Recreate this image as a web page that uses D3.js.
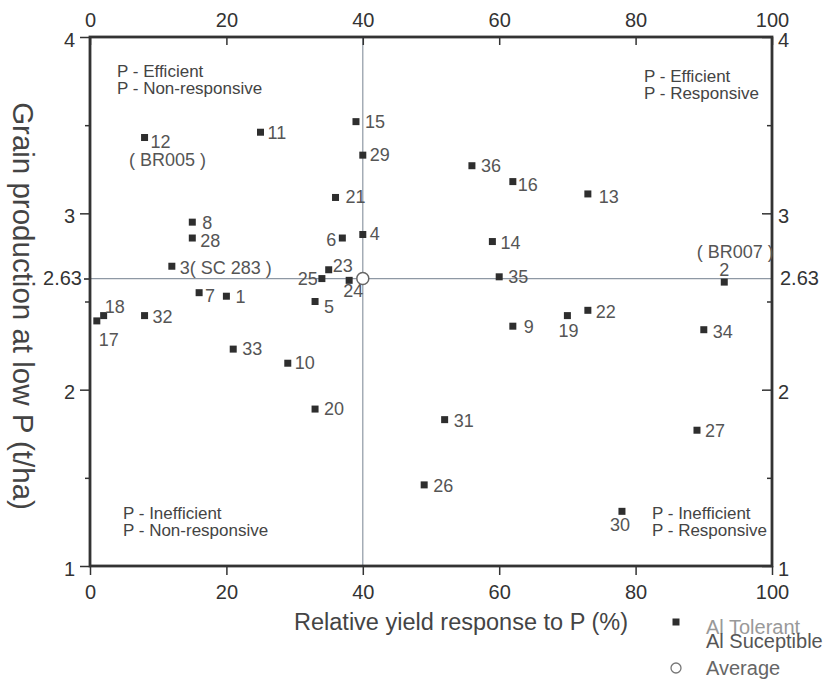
<!DOCTYPE html>
<html>
<head>
<meta charset="utf-8">
<script src="https://cdn.jsdelivr.net/npm/d3@7"></script>
<style>
  body { margin: 0; background: #fff; }
  text { font-family: "Liberation Sans", Arial, sans-serif; }
</style>
</head>
<body>
<script>
//#### DATA ####
var ids = [1,2,3,4,5,6,7,8,9,10,11,12,13,14,15,16,17,18,19,20,21,22,23,24,25,26,27,28,29,30,31,32,33,34,35,36];
var response = [20,93,12,40,33,37,16,15,62,29,25,8,73,59,39,62,1,2,70,33,36,73,35,38,34,49,89,15,40,78,52,8,21,90,60,56];
var grain = [2.53,2.61,2.70,2.88,2.50,2.86,2.55,2.95,2.36,2.15,3.46,3.43,3.11,2.84,3.52,3.18,2.39,2.42,2.42,1.89,
             3.09,2.45,2.68,2.62,2.63,1.46,1.77,2.86,3.33,1.31,1.83,2.42,2.23,2.34,2.64,3.27];
var pointNames = {3: "3( SC 283 )"};
var cultivars = {12: "( BR005 )", 2: "( BR007 )"};

var avgResponse = 40;
var avgGrain = 2.63;

var xTicks = [0,20,40,60,80,100];
var yTicks = [1,2,3,4];
var yMinor = [1.5,2.5,3.5];

var quadrants = [
  ["P - Efficient", "P - Non-responsive"],
  ["P - Efficient", "P - Responsive"],
  ["P - Inefficient", "P - Non-responsive"],
  ["P - Inefficient", "P - Responsive"]
];
var legendItems = ["Al Tolerant", "Al Suceptible", "Average"];

var xTitle = "Relative yield response to P (%)";
var yTitle = "Grain production at low P (t/ha)";

// label placement per point: [dx, dy, anchor]
var labelPos = {
  1:[9,7,"start"], 2:[0,-6,"middle"], 3:[8,8,"start"], 4:[7,6,"start"], 5:[9,11,"start"],
  6:[-6,8,"end"], 7:[6,9,"start"], 8:[10,7,"start"], 9:[11,7,"start"], 10:[7,6,"start"],
  11:[7,7,"start"], 12:[6,10,"start"], 13:[11,9,"start"], 14:[8,7,"start"], 15:[9,6,"start"],
  16:[5,9,"start"], 17:[2,25,"start"], 18:[1,-3,"start"], 19:[1,21,"middle"], 20:[9,6,"start"],
  21:[10,6,"start"], 22:[8,8,"start"], 23:[4,2,"start"], 24:[-6,17,"start"], 25:[-4,6,"end"],
  26:[9,7,"start"], 27:[8,7,"start"], 28:[8,9,"start"], 29:[7,6,"start"], 30:[-2,20,"middle"],
  31:[9,7,"start"], 32:[8,7,"start"], 33:[9,6,"start"], 34:[9,8,"start"], 35:[9,6,"start"],
  36:[9,6,"start"]
};
var cultivarPos = {12:[23,28], 2:[11,-24]};

var data = ids.map(function(id, i) {
  return {id: id, x: response[i], y: grain[i], name: pointNames[id] || String(id)};
});

//#### LAYOUT ####
var width_outer = 829;
var height_outer = 680;
var margin = {top: 37, right: 57, bottom: 114, left: 90};

var svg = d3.select("body").append("svg")
  .attr("width", width_outer)
  .attr("height", height_outer);

var x = d3.scaleLinear()
  .domain([0, 100])
  .range([margin.left, width_outer - margin.right]);

var y = d3.scaleLinear()
  .domain([1, 4])
  .range([height_outer - margin.bottom, margin.top]);

var axisColor = "#333";
var textColor = "#444";
var refColor = "#8e98a4";

// reference lines through the averages
svg.append("line")
  .attr("x1", x(avgResponse)).attr("x2", x(avgResponse))
  .attr("y1", y(4)).attr("y2", y(1))
  .style("stroke", refColor).style("stroke-width", 1.2);

svg.append("line")
  .attr("x1", x(0) - 6).attr("x2", x(100))
  .attr("y1", y(avgGrain)).attr("y2", y(avgGrain))
  .style("stroke", refColor).style("stroke-width", 1.2);

// quadrant captions
var quadAt = [
  {x: 117, y: 77},
  {x: 644, y: 82},
  {x: 123, y: 519},
  {x: 652, y: 519}
];
quadrants.forEach(function(q, i) {
  var t = svg.append("text")
    .attr("x", quadAt[i].x).attr("y", quadAt[i].y)
    .style("font-size", "17px")
    .style("fill", textColor);
  t.append("tspan").attr("x", quadAt[i].x).text(q[0]);
  t.append("tspan").attr("x", quadAt[i].x).attr("dy", 17).text(q[1]);
});

// axes
var tickStyle = function(g) {
  g.select(".domain").remove();
  g.selectAll(".tick line").style("stroke", axisColor).style("stroke-width", 1.5);
  g.selectAll(".tick text")
    .style("font-size", "20px")
    .style("fill", "#333")
    .style("font-family", "'Liberation Sans', Arial, sans-serif");
};

svg.append("g")
  .attr("transform", "translate(0," + y(1) + ")")
  .call(d3.axisBottom(x).tickValues(xTicks).tickSize(9).tickPadding(10))
  .call(tickStyle);

svg.append("g")
  .attr("transform", "translate(0," + y(4) + ")")
  .call(d3.axisTop(x).tickValues(xTicks).tickSizeInner(-8).tickSizeOuter(0).tickPadding(10))
  .call(tickStyle);

svg.append("g")
  .attr("transform", "translate(" + x(0) + ",0)")
  .call(d3.axisLeft(y).tickValues(yTicks).tickSize(10).tickPadding(5).tickFormat(d3.format("d")))
  .call(tickStyle)
  .selectAll(".tick text").attr("dy", "0.45em");

svg.append("g")
  .attr("transform", "translate(" + x(100) + ",0)")
  .call(d3.axisRight(y).tickValues(yTicks).tickSizeInner(-10).tickSizeOuter(0).tickPadding(6).tickFormat(d3.format("d")))
  .call(tickStyle)
  .selectAll(".tick text").attr("dy", "0.45em");

// minor ticks
svg.append("g")
  .attr("transform", "translate(" + x(0) + ",0)")
  .call(d3.axisLeft(y).tickValues(yMinor).tickSize(5).tickFormat(""))
  .call(tickStyle);

svg.append("g")
  .attr("transform", "translate(" + x(100) + ",0)")
  .call(d3.axisRight(y).tickValues(yMinor).tickSizeInner(-5).tickSizeOuter(0).tickFormat(""))
  .call(tickStyle);

// average marker on both sides
svg.append("g")
  .attr("transform", "translate(" + x(0) + ",0)")
  .call(d3.axisLeft(y).tickValues([avgGrain]).tickSize(6).tickPadding(2).tickFormat(d3.format(".2f")))
  .call(tickStyle);

svg.append("g")
  .attr("transform", "translate(" + x(100) + ",0)")
  .call(d3.axisRight(y).tickValues([avgGrain]).tickSize(0).tickPadding(8).tickFormat(d3.format(".2f")))
  .call(tickStyle);

// frame
svg.append("rect")
  .attr("x", x(0)).attr("y", y(4))
  .attr("width", x(100) - x(0))
  .attr("height", y(1) - y(4))
  .style("fill", "none")
  .style("stroke", axisColor)
  .style("stroke-width", 2.8);

// axis titles
svg.append("text")
  .attr("x", 461).attr("y", 630)
  .attr("text-anchor", "middle")
  .style("font-size", "23.5px")
  .style("fill", textColor)
  .text(xTitle);

svg.append("text")
  .attr("transform", "translate(13,306) rotate(90)")
  .attr("text-anchor", "middle")
  .style("font-size", "29.5px")
  .style("fill", textColor)
  .text(yTitle);

// points
svg.selectAll(".dot")
  .data(data)
  .enter().append("rect")
  .attr("class", "dot")
  .attr("x", function(d) { return x(d.x) - 3.5; })
  .attr("y", function(d) { return y(d.y) - 3.5; })
  .attr("width", 7)
  .attr("height", 7)
  .style("fill", "#2e2e2e");

svg.selectAll(".lbl")
  .data(data)
  .enter().append("text")
  .attr("class", "lbl")
  .attr("x", function(d) { return x(d.x) + labelPos[d.id][0]; })
  .attr("y", function(d) { return y(d.y) + labelPos[d.id][1]; })
  .attr("text-anchor", function(d) { return labelPos[d.id][2]; })
  .style("font-size", "18px")
  .style("fill", "#555")
  .text(function(d) { return d.name; });

data.filter(function(d) { return cultivars[d.id]; }).forEach(function(d) {
  svg.append("text")
    .attr("x", x(d.x) + cultivarPos[d.id][0])
    .attr("y", y(d.y) + cultivarPos[d.id][1])
    .attr("text-anchor", "middle")
    .style("font-size", "18px")
    .style("fill", "#555")
    .text(cultivars[d.id]);
});

// average point
svg.append("circle")
  .attr("cx", x(avgResponse))
  .attr("cy", y(avgGrain))
  .attr("r", 6)
  .style("fill", "#fff")
  .style("stroke", "#666")
  .style("stroke-width", 1.5);

// legend
svg.append("rect")
  .attr("x", 672.5).attr("y", 618.5)
  .attr("width", 7).attr("height", 7)
  .style("fill", "#2e2e2e");

svg.append("text")
  .attr("x", 706).attr("y", 634)
  .style("font-size", "20px")
  .style("fill", "#999")
  .text(legendItems[0]);

svg.append("text")
  .attr("x", 706).attr("y", 648)
  .style("font-size", "20px")
  .style("fill", "#555")
  .text(legendItems[1]);

svg.append("circle")
  .attr("cx", 676).attr("cy", 668)
  .attr("r", 5)
  .style("fill", "#fff")
  .style("stroke", "#777")
  .style("stroke-width", 1.3);

svg.append("text")
  .attr("x", 706).attr("y", 675)
  .style("font-size", "20px")
  .style("fill", "#666")
  .text(legendItems[2]);
</script>
</body>
</html>
